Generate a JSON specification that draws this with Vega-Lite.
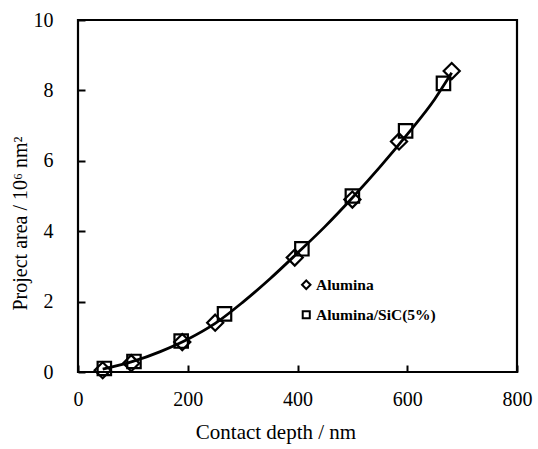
{
  "$schema": "https://vega.github.io/schema/vega-lite/v6.json",
  "width": 439,
  "height": 352,
  "autosize": "none",
  "padding": {"left": 78, "top": 20, "right": 21, "bottom": 77},
  "background": "white",
  "config": {
    "view": {"stroke": "black", "strokeWidth": 2.2},
    "font": "Liberation Serif"
  },
  "datasets": {
    "pts": [
      {"depth": 45, "area": 0.05, "series": "Alumina"},
      {"depth": 97, "area": 0.25, "series": "Alumina"},
      {"depth": 190, "area": 0.85, "series": "Alumina"},
      {"depth": 250, "area": 1.4, "series": "Alumina"},
      {"depth": 395, "area": 3.25, "series": "Alumina"},
      {"depth": 500, "area": 4.9, "series": "Alumina"},
      {"depth": 585, "area": 6.55, "series": "Alumina"},
      {"depth": 681, "area": 8.55, "series": "Alumina"},
      {"depth": 48, "area": 0.1, "series": "Alumina/SiC(5%)"},
      {"depth": 102, "area": 0.3, "series": "Alumina/SiC(5%)"},
      {"depth": 188, "area": 0.88, "series": "Alumina/SiC(5%)"},
      {"depth": 267, "area": 1.65, "series": "Alumina/SiC(5%)"},
      {"depth": 408, "area": 3.5, "series": "Alumina/SiC(5%)"},
      {"depth": 500, "area": 5.0, "series": "Alumina/SiC(5%)"},
      {"depth": 597, "area": 6.85, "series": "Alumina/SiC(5%)"},
      {"depth": 666, "area": 8.2, "series": "Alumina/SiC(5%)"}
    ],
    "curve": [
      {"depth": 45, "area": 0.08},
      {"depth": 100, "area": 0.3},
      {"depth": 150, "area": 0.58},
      {"depth": 200, "area": 0.93},
      {"depth": 250, "area": 1.38},
      {"depth": 300, "area": 1.98},
      {"depth": 350, "area": 2.65},
      {"depth": 400, "area": 3.38},
      {"depth": 450, "area": 4.13},
      {"depth": 500, "area": 4.95},
      {"depth": 550, "area": 5.82},
      {"depth": 600, "area": 6.75},
      {"depth": 650, "area": 7.75},
      {"depth": 681, "area": 8.5}
    ]
  },
  "layer": [
    {
      "data": {"name": "curve"},
      "mark": {"type": "line", "color": "black", "strokeWidth": 2.8, "interpolate": "monotone"},
      "encoding": {
        "x": {"field": "depth", "type": "quantitative"},
        "y": {"field": "area", "type": "quantitative"}
      }
    },
    {
      "data": {"name": "pts"},
      "mark": {"type": "point", "filled": false, "strokeWidth": 2.2, "opacity": 1, "size": 180},
      "encoding": {
        "x": {
          "field": "depth", "type": "quantitative",
          "scale": {"domain": [0, 800], "nice": false},
          "axis": {
            "title": "Contact depth / nm",
            "values": [0, 200, 400, 600, 800],
            "grid": false, "domain": false, "labelFlush": false,
            "tickColor": "black", "tickSize": -7, "tickWidth": 2,
            "labelFont": "Liberation Serif", "labelFontSize": 20, "labelColor": "black", "labelPadding": 24,
            "titleFont": "Liberation Serif", "titleFontSize": 21, "titleFontWeight": "normal", "titleColor": "black",
            "titleX": 197.5, "titleY": 60, "titleBaseline": "middle", "titleAlign": "center"
          }
        },
        "y": {
          "field": "area", "type": "quantitative",
          "scale": {"domain": [0, 10], "nice": false},
          "axis": {
            "title": "Project area / 10⁶ nm²",
            "values": [0, 2, 4, 6, 8, 10],
            "grid": false, "domain": false, "labelFlush": false,
            "tickColor": "black", "tickSize": -7, "tickWidth": 2,
            "labelFont": "Liberation Serif", "labelFontSize": 20, "labelColor": "black", "labelPadding": 32,
            "titleFont": "Liberation Serif", "titleFontSize": 20, "titleFontWeight": "normal", "titleColor": "black",
            "titleX": -57.5, "titleY": 203, "titleBaseline": "middle", "titleAlign": "center", "titleAngle": -90
          }
        },
        "shape": {
          "field": "series", "type": "nominal",
          "scale": {"domain": ["Alumina", "Alumina/SiC(5%)"], "range": ["M0,-1.2L1.2,0L0,1.2L-1.2,0Z", "square"]},
          "legend": {
            "title": null,
            "orient": "none", "legendX": 220.5, "legendY": 257,
            "rowPadding": 13,
            "symbolStrokeColor": "black", "symbolFillColor": "white", "symbolStrokeWidth": 2, "symbolSize": 50,
            "labelFont": "Liberation Serif", "labelFontSize": 15.5, "labelFontWeight": "bold", "labelColor": "black",
            "labelOffset": 2
          }
        },
        "color": {"value": "black"}
      }
    }
  ]
}
